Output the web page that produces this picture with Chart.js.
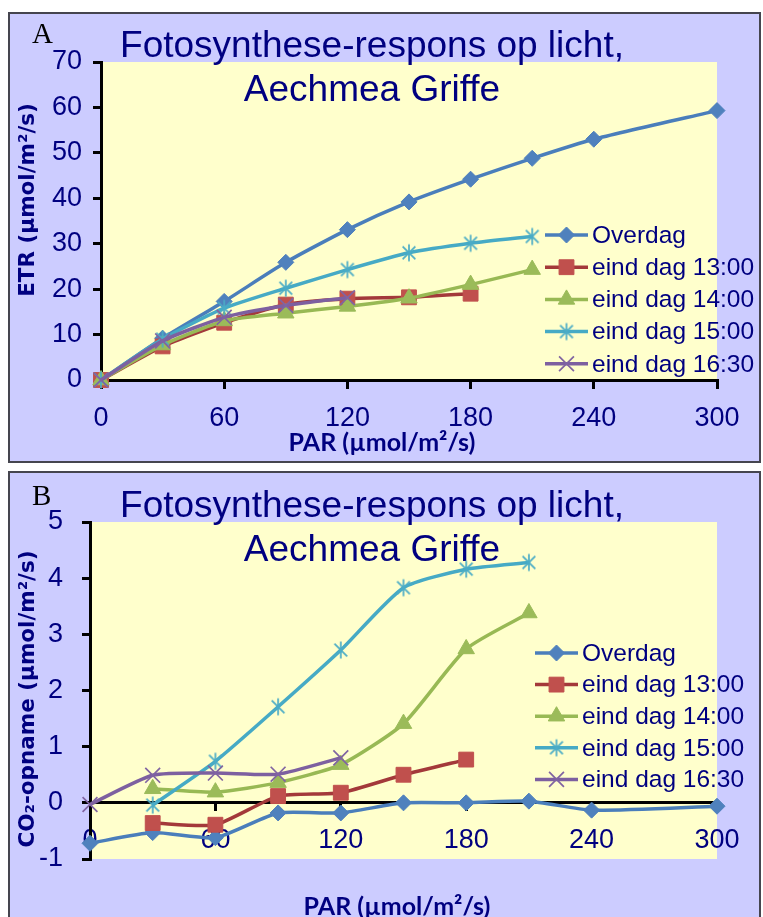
<!DOCTYPE html>
<html>
<head>
<meta charset="utf-8">
<script src="https://cdn.jsdelivr.net/npm/chart.js@4.4.0/dist/chart.umd.min.js"></script>
<style>
  html, body { margin: 0; padding: 0; background: #fff; overflow: hidden; }
  body { width: 763px; height: 917px; position: relative; }
  .panel { position: absolute; left: 8px; width: 753px; box-sizing: border-box; border: 2px solid #45454f; background: #ccccff; }
  #panelA { top: 12px; height: 451px; }
  #panelB { top: 471px; height: 470px; }
  .panel canvas { position: absolute; left: 0; top: 0; }
</style>
</head>
<body>
<div class="panel" id="panelA"><canvas id="chartA" width="749" height="447"></canvas></div>
<div class="panel" id="panelB"><canvas id="chartB" width="749" height="450"></canvas></div>
<script>
// PAR steps (µmol/m²/s), shared by both panels
const parValues = [0, 30, 60, 90, 120, 150, 180, 210, 240, 300];
const parTicks = [0, 60, 120, 180, 240, 300];
const seriesNames = ['Overdag', 'eind dag 13:00', 'eind dag 14:00', 'eind dag 15:00', 'eind dag 16:30'];

// A: ETR (µmol/m²/s)
const etrTicks = [0, 10, 20, 30, 40, 50, 60, 70];
const etrOverdag = [0, 9.2, 17.3, 25.9, 33.1, 39.2, 44.2, 48.8, 53.0, 59.3];
const etr1300 = [0, 7.4, 12.6, 16.6, 17.9, 18.2, 19.0, null, null, null];
const etr1400 = [0, 7.7, 13.0, 14.7, 16.2, 18.0, 21.0, 24.3, null, null];
const etr1500 = [0, 9.0, 15.8, 20.2, 24.3, 28.0, 30.1, 31.6, null, null];
const etr1630 = [0, 8.6, 13.8, 16.4, 18.1, null, null, null, null, null];

// B: CO2-opname (µmol/m²/s)
const co2Ticks = [-1, 0, 1, 2, 3, 4, 5];
const co2Overdag = [-0.72, -0.53, -0.62, -0.18, -0.18, 0.0, 0.0, 0.03, -0.13, -0.06];
const co21300 = [null, -0.36, -0.39, 0.12, 0.18, 0.50, 0.77, null, null, null];
const co21400 = [null, 0.25, 0.19, 0.36, 0.68, 1.41, 2.74, 3.38, null, null];
const co21500 = [null, -0.04, 0.74, 1.71, 2.72, 3.83, 4.16, 4.28, null, null];
const co21630 = [-0.03, 0.49, 0.53, 0.51, 0.80, null, null, null, null, null];

const navy = '#000080';
const lineColors = ['#4a7ebb', '#a3393a', '#98b954', '#46aac5', '#7d60a0'];
const markerColors = ['#4f81bd', '#c0504d', '#9bbb59', '#4bacc6', '#8064a2'];

// excel-like star marker: X with a vertical bar
function starMarker(color) {
  const size = 20;
  const c = document.createElement('canvas');
  c.width = c.height = size;
  const g = c.getContext('2d');
  const m = size / 2, r = 8.5, d = r * 0.75;
  g.strokeStyle = color;
  g.lineWidth = 1.7;
  g.beginPath();
  g.moveTo(m, m - r); g.lineTo(m, m + r);
  g.moveTo(m - d, m - d); g.lineTo(m + d, m + d);
  g.moveTo(m + d, m - d); g.lineTo(m - d, m + d);
  g.stroke();
  return c;
}

const pointStyles = ['rectRot', 'rect', 'triangle', starMarker(markerColors[3]), 'crossRot'];
const pointRadii = [8, 10.5, 9.5, 9, 10.5];

function makeDatasets(seriesValues) {
  return seriesValues.map((vals, i) => ({
    label: seriesNames[i],
    data: parValues.map((x, j) => ({x: x, y: vals[j]})).filter(p => p.y !== null),
    borderColor: lineColors[i],
    borderWidth: 3.5,
    pointStyle: pointStyles[i],
    pointRadius: pointRadii[i],
    pointBackgroundColor: markerColors[i],
    pointBorderColor: markerColors[i],
    pointBorderWidth: i >= 3 ? 1.7 : 1,
    tension: 0.2,
    fill: false,
    clip: false,
    order: seriesValues.length - i
  }));
}

function buildScales(yTicks, yWidth, yPad) {
  return {
    x: {
      type: 'linear',
      position: {y: 0},
      min: parTicks[0],
      max: parTicks[parTicks.length - 1],
      afterBuildTicks: s => { s.ticks = parTicks.map(v => ({value: v})); },
      grid: {drawOnChartArea: false, drawTicks: true, tickLength: 7, color: '#000', lineWidth: 3},
      border: {color: '#000', width: 3},
      ticks: {color: navy, font: {family: 'Liberation Sans, Arial, sans-serif', size: 27}, padding: 15, maxRotation: 0}
    },
    y: {
      type: 'linear',
      min: yTicks[0],
      max: yTicks[yTicks.length - 1],
      afterBuildTicks: s => { s.ticks = yTicks.map(v => ({value: v})); },
      afterFit: s => { s.width = yWidth; },
      grid: {drawOnChartArea: false, drawTicks: true, tickLength: 8, color: '#000', lineWidth: 3},
      border: {color: '#000', width: 3},
      ticks: {color: navy, font: {family: 'Liberation Sans, Arial, sans-serif', size: 27}, padding: yPad}
    }
  };
}

// plot background, titles and the in-plot legend
const panelDecor = {
  id: 'panelDecor',
  beforeDraw(chart) {
    const {ctx, chartArea: a} = chart;
    ctx.save();
    ctx.fillStyle = '#ffffcc';
    ctx.fillRect(a.left, a.top, a.right - a.left, a.bottom - a.top);
    ctx.restore();
  },
  beforeDatasetsDraw(chart, args, o) {
    const ctx = chart.ctx;
    ctx.save();
    ctx.fillStyle = '#000';
    ctx.font = '29px "Liberation Serif", "Times New Roman", serif';
    ctx.textAlign = 'left';
    ctx.textBaseline = 'alphabetic';
    ctx.fillText(o.letter, o.letterPos[0], o.letterPos[1]);

    ctx.fillStyle = navy;
    ctx.font = '37px "Liberation Sans", Arial, sans-serif';
    ctx.textAlign = 'center';
    ctx.fillText('Fotosynthese-respons op licht,', o.titleX, o.titleY[0]);
    ctx.fillText('Aechmea Griffe', o.titleX, o.titleY[1]);

    ctx.font = 'bold 25px Lato, "Open Sans", sans-serif';
    ctx.fillText('PAR (µmol/m²/s)', o.xTitlePos[0], o.xTitlePos[1]);

    ctx.translate(o.yTitlePos[0], o.yTitlePos[1]);
    ctx.rotate(-Math.PI / 2);
    ctx.font = 'bold 21.5px "DejaVu Sans", Verdana, sans-serif';
    ctx.textBaseline = 'middle';
    ctx.fillText(o.yTitle, 0, 0);
    ctx.restore();
  },
  afterDatasetsDraw(chart, args, o) {
    const ctx = chart.ctx;
    const lg = o.legend;
    chart.data.datasets.forEach((ds, i) => {
      const y = lg.y + i * lg.gap;
      ctx.save();
      ctx.strokeStyle = ds.borderColor;
      ctx.lineWidth = 3.5;
      ctx.beginPath();
      ctx.moveTo(lg.x, y);
      ctx.lineTo(lg.x + 43, y);
      ctx.stroke();
      ctx.fillStyle = ds.pointBackgroundColor;
      ctx.strokeStyle = ds.pointBorderColor;
      ctx.lineWidth = ds.pointBorderWidth;
      Chart.helpers.drawPoint(ctx, {pointStyle: ds.pointStyle, radius: ds.pointRadius, borderWidth: ds.pointBorderWidth, rotation: 0}, lg.x + 21.5, y);
      ctx.fillStyle = navy;
      ctx.font = '24.5px "Liberation Sans", Arial, sans-serif';
      ctx.textAlign = 'left';
      ctx.textBaseline = 'middle';
      ctx.fillText(ds.label, lg.x + 47, y + 1);
      ctx.restore();
    });
  }
};

function makeChart(id, seriesValues, yTicks, layout, decor) {
  return new Chart(document.getElementById(id), {
    type: 'line',
    data: {datasets: makeDatasets(seriesValues)},
    options: {
      responsive: false,
      animation: false,
      events: [],
      layout: {padding: layout.padding},
      scales: buildScales(yTicks, layout.yWidth, layout.yPad),
      plugins: {
        legend: {display: false},
        tooltip: {enabled: false},
        panelDecor: decor
      }
    },
    plugins: [panelDecor]
  });
}

makeChart('chartA', [etrOverdag, etr1300, etr1400, etr1500, etr1630], etrTicks,
  {padding: {left: 0, top: 48, right: 42, bottom: 81}, yWidth: 91, yPad: 11},
  {letter: 'A', letterPos: [22, 29], titleX: 362, titleY: [43, 87],
   xTitlePos: [372, 437], yTitle: 'ETR (µmol/m²/s)', yTitlePos: [18, 186],
   legend: {x: 535, y: 221, gap: 32.2}});

makeChart('chartB', [co2Overdag, co21300, co21400, co21500, co21630], co2Ticks,
  {padding: {left: 0, top: 49, right: 42, bottom: 64}, yWidth: 80, yPad: 19},
  {letter: 'B', letterPos: [22, 32], titleX: 362, titleY: [44, 88],
   xTitlePos: [387, 442], yTitle: 'CO₂-opname (µmol/m²/s)', yTitlePos: [18, 226],
   legend: {x: 525, y: 180, gap: 31.6}});
</script>
</body>
</html>
